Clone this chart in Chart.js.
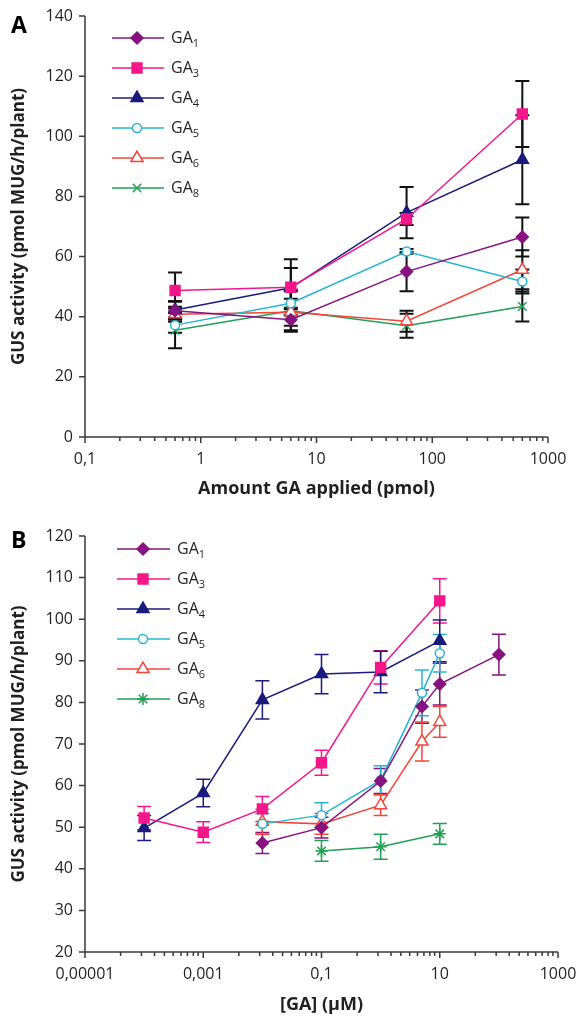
<!DOCTYPE html>
<html><head><meta charset="utf-8">
<script src="https://cdn.jsdelivr.net/npm/chart.js@4.4.0/dist/chart.umd.min.js"></script>
<style>
html,body{margin:0;padding:0;background:#fff;}
#wrap{position:relative;width:584px;height:1019px;overflow:hidden;}
.box{position:absolute;left:0;width:584px;}
#boxA{top:0;height:505px;}
#boxB{top:505px;height:514px;}
</style></head><body>
<div id="wrap">
<div class="box" id="boxA"><canvas id="chartA"></canvas></div>
<div class="box" id="boxB"><canvas id="chartB"></canvas></div>
</div>
<script>
// ---------------- DATA ----------------
const legendBase = ['GA','GA','GA','GA','GA','GA'];
const legendSub  = ['1','3','4','5','6','8'];

// Panel A : amount applied (pmol)
const doseA = [0.6, 6, 60, 600];
const A_GA1 = [42, 39, 55, 66.5];
const A_GA3 = [48.7, 49.8, 72.5, 107.4];
const A_GA4 = [42.2, 49.6, 74.6, 92.2];
const A_GA5 = [37.2, 44.5, 61.7, 51.7];
const A_GA6 = [40.8, 41.5, 38.5, 55.6];
const A_GA8 = [35.5, 42, 37, 43.4];
const A_GA1_err = [3, 3.5, 6.5, 6.5];
const A_GA3_err = [6, 9.3, 2, 11];
const A_GA4_err = [3, 6.6, 8.5, 14.8];
const A_GA5_err = [2.5, 4, 0.8, 4];
const A_GA6_err = [2.5, 4.5, 3.5, 6.5];
const A_GA8_err = [6, 7, 4, 5];
const xTickValuesA = [0.1, 1, 10, 100, 1000];
const xTickLabelsA = ['0,1', '1', '10', '100', '1000'];

// Panel B : concentration (µM)
const B_GA1_x = [0.01, 0.1, 1, 5, 10, 100];
const B_GA1_y = [46.2, 49.9, 61.1, 79, 84.4, 91.5];
const B_GA1_err = [2.5, 2.5, 3, 4, 5, 4.9];
const B_GA3_x = [0.0001, 0.001, 0.01, 0.1, 1, 10];
const B_GA3_y = [52.2, 48.8, 54.4, 65.5, 88.4, 104.4];
const B_GA3_err = [2.8, 2.5, 3, 3, 4, 5.3];
const B_GA4_x = [0.0001, 0.001, 0.01, 0.1, 1, 10];
const B_GA4_y = [49.8, 58.2, 80.6, 86.8, 87.3, 94.8];
const B_GA4_err = [3, 3.3, 4.6, 4.7, 5, 5];
const B_GA5_x = [0.01, 0.1, 1, 5, 10];
const B_GA5_y = [50.8, 52.9, 61.3, 82.3, 91.8];
const B_GA5_err = [2.5, 3, 3.5, 5.5, 4.5];
const B_GA6_x = [0.01, 0.1, 1, 5, 10];
const B_GA6_y = [51.3, 50.8, 55.3, 70.6, 75.3];
const B_GA6_err = [3, 2.5, 2.5, 4.7, 3.7];
const B_GA8_x = [0.1, 1, 10];
const B_GA8_y = [44.3, 45.3, 48.4];
const B_GA8_err = [2.5, 3, 2.5];
const xTickValuesB = [0.00001, 0.001, 0.1, 10, 1000];
const xTickLabelsB = ['0,00001', '0,001', '0,1', '10', '1000'];
const minorFactorsA = [2, 3, 4, 5, 6, 7, 8, 9];
const minorFactorsB = [4, 9, 15, 22, 31, 42, 54, 68, 82];

// ---------------- STYLE ----------------
const FONT = '"Open Sans", "Noto Sans", sans-serif';
const TXT = '#231f20';
const AXIS = '#3a3a3a';
const COL = {
  GA1: '#86137f', GA3: '#f5168a', GA4: '#1b1a7d',
  GA5: '#27b4d2', GA6: '#f2463a', GA8: '#21a055'
};
Chart.defaults.font.family = FONT;
Chart.defaults.color = TXT;

function mk(label, color, style, radius, data, err, fill, extra) {
  return Object.assign({
    label, data, err,
    borderColor: color, backgroundColor: color,
    pointStyle: style, pointRadius: radius, pointHoverRadius: radius,
    pointBackgroundColor: fill || color, pointBorderColor: color,
    pointBorderWidth: 1.5, borderWidth: 1.5, tension: 0, fill: false
  }, extra || {});
}
const zipXY = (xs, ys) => xs.map((x, i) => ({x, y: ys[i]}));

// --------------- PLUGINS ---------------
function errorBarPlugin(opt) {
  return {
    id: 'errbars',
    beforeDatasetsDraw(chart) {
      const ctx = chart.ctx, ys = chart.scales.y;
      chart.data.datasets.forEach((ds, i) => {
        const meta = chart.getDatasetMeta(i);
        ctx.save();
        ctx.strokeStyle = opt.color || ds.borderColor;
        ctx.lineWidth = opt.width;
        meta.data.forEach((pt, j) => {
          const v = typeof ds.data[j] === 'object' ? ds.data[j].y : ds.data[j];
          const e = ds.err[j];
          const x = pt.x;
          const yt = ys.getPixelForValue(v + e), yb = ys.getPixelForValue(v - e);
          ctx.beginPath();
          ctx.moveTo(x, yt); ctx.lineTo(x, yb);
          ctx.moveTo(x - opt.cap, yt); ctx.lineTo(x + opt.cap, yt);
          ctx.moveTo(x - opt.cap, yb); ctx.lineTo(x + opt.cap, yb);
          ctx.stroke();
        });
        ctx.restore();
      });
    }
  };
}

function axesPlugin(opt) {
  return {
    id: 'axesdraw',
    afterDraw(chart) {
      const ctx = chart.ctx, a = chart.chartArea;
      const xs = chart.scales.x, ys = chart.scales.y;
      ctx.save();
      ctx.strokeStyle = AXIS; ctx.lineWidth = 1.5;
      ctx.beginPath();
      ctx.moveTo(a.left, a.top); ctx.lineTo(a.left, a.bottom); ctx.lineTo(a.right, a.bottom);
      ys.ticks.forEach(t => {
        const y = ys.getPixelForValue(t.value);
        ctx.moveTo(a.left - 6, y); ctx.lineTo(a.left, y);
      });
      xs.ticks.forEach(t => {
        const x = xs.getPixelForValue(t.value);
        const len = t.major ? 6 : 4;
        ctx.moveTo(x, a.bottom); ctx.lineTo(x, a.bottom + len);
      });
      ctx.stroke();
      // panel letter
      ctx.fillStyle = '#000';
      ctx.font = 'bold 23px ' + FONT;
      ctx.textAlign = 'left'; ctx.textBaseline = 'middle';
      ctx.fillText(opt.letter, opt.lx, opt.ly);
      ctx.restore();
    }
  };
}

function legendPlugin(opt) {
  return {
    id: 'galegend',
    afterDraw(chart) {
      const ctx = chart.ctx;
      chart.data.datasets.forEach((ds, i) => {
        const y = opt.y0 + i * opt.dy;
        ctx.save();
        ctx.strokeStyle = ds.borderColor; ctx.lineWidth = 1.5;
        ctx.beginPath(); ctx.moveTo(opt.x0, y); ctx.lineTo(opt.x1, y); ctx.stroke();
        ctx.fillStyle = ds.pointBackgroundColor;
        ctx.strokeStyle = ds.pointBorderColor;
        ctx.lineWidth = ds.pointBorderWidth;
        Chart.helpers.drawPoint(ctx, {pointStyle: ds.pointStyle, rotation: 0,
          radius: ds.pointRadius, borderWidth: ds.pointBorderWidth}, opt.xm, y);
        ctx.fillStyle = TXT;
        ctx.textBaseline = 'middle'; ctx.textAlign = 'left';
        ctx.font = '16px ' + FONT;
        ctx.fillText(legendBase[i], opt.xt, y);
        const w = ctx.measureText(legendBase[i]).width;
        ctx.font = '11px ' + FONT;
        ctx.fillText(legendSub[i], opt.xt + w, y + 6);
        ctx.restore();
      });
    }
  };
}

function makeXTicks(majors, factors) {
  const list = [];
  majors.forEach((m, i) => {
    list.push({value: m, major: true});
    if (i < majors.length - 1) factors.forEach(f => list.push({value: m * f, major: false}));
  });
  return list;
}

function baseOptions(cfg) {
  return {
    responsive: true, maintainAspectRatio: false, animation: false,
    layout: {padding: cfg.padding},
    plugins: {legend: {display: false}, tooltip: {enabled: false}},
    scales: {
      x: {
        type: 'logarithmic', min: cfg.xmin, max: cfg.xmax,
        afterBuildTicks: s => { s.ticks = makeXTicks(cfg.xMajors, cfg.xFactors); },
        afterFit: s => { s.height = cfg.xHeight; },
        grid: {display: false, drawTicks: true, tickLength: 6},
        border: {display: false},
        ticks: {
          autoSkip: false, maxRotation: 0, minRotation: 0, padding: 7,
          color: TXT, font: {size: 16, family: FONT},
          callback: (v) => {
            const i = cfg.xMajors.findIndex(m => Math.abs(Math.log10(m) - Math.log10(v)) < 1e-6);
            return i >= 0 ? cfg.xLabels[i] : '';
          }
        },
        title: {display: true, text: cfg.xTitle, color: TXT,
          font: {size: 18, weight: 'bold', family: FONT}, padding: {top: 2, bottom: 0}}
      },
      y: {
        type: 'linear', min: cfg.ymin, max: cfg.ymax,
        afterFit: s => { s.width = 85; },
        grid: {display: false, drawTicks: true, tickLength: 6},
        border: {display: false},
        ticks: {stepSize: cfg.ystep, padding: 6, color: TXT, font: {size: 16, family: FONT}},
        title: {display: true, text: 'GUS activity (pmol MUG/h/plant)', color: TXT,
          font: {size: 17, weight: 'bold', family: FONT}, padding: {top: 9, bottom: 0}}
      }
    }
  };
}

// --------------- CHART A ---------------
new Chart(document.getElementById('chartA'), {
  type: 'line',
  data: {
    labels: doseA,
    datasets: [
      mk('GA1', COL.GA1, 'rectRot', 6, zipXY(doseA, A_GA1), A_GA1_err),
      mk('GA3', COL.GA3, 'rect', 7, zipXY(doseA, A_GA3), A_GA3_err),
      mk('GA4', COL.GA4, 'triangle', 7, zipXY(doseA, A_GA4), A_GA4_err),
      mk('GA5', COL.GA5, 'circle', 4.5, zipXY(doseA, A_GA5), A_GA5_err, '#ffffff'),
      mk('GA6', COL.GA6, 'triangle', 7, zipXY(doseA, A_GA6), A_GA6_err, '#ffffff'),
      mk('GA8', COL.GA8, 'crossRot', 6, zipXY(doseA, A_GA8), A_GA8_err)
    ]
  },
  options: baseOptions({
    padding: {left: 0, right: 36, top: 16, bottom: 5},
    xmin: 0.1, xmax: 1000, xMajors: xTickValuesA, xLabels: xTickLabelsA, xFactors: minorFactorsA,
    xHeight: 63, xTitle: 'Amount GA applied (pmol)', ymin: 0, ymax: 140, ystep: 20
  }),
  plugins: [
    errorBarPlugin({color: '#111111', width: 2, cap: 7}),
    axesPlugin({letter: 'A', lx: 11, ly: 26}),
    legendPlugin({x0: 112, x1: 164, xm: 137, xt: 171, y0: 38, dy: 30})
  ]
});

// --------------- CHART B ---------------
new Chart(document.getElementById('chartB'), {
  type: 'line',
  data: {
    datasets: [
      mk('GA1', COL.GA1, 'rectRot', 6, zipXY(B_GA1_x, B_GA1_y), B_GA1_err),
      mk('GA3', COL.GA3, 'rect', 7, zipXY(B_GA3_x, B_GA3_y), B_GA3_err),
      mk('GA4', COL.GA4, 'triangle', 7, zipXY(B_GA4_x, B_GA4_y), B_GA4_err),
      mk('GA5', COL.GA5, 'circle', 4.5, zipXY(B_GA5_x, B_GA5_y), B_GA5_err, '#ffffff'),
      mk('GA6', COL.GA6, 'triangle', 7, zipXY(B_GA6_x, B_GA6_y), B_GA6_err, '#ffffff'),
      mk('GA8', COL.GA8, 'star', 6, zipXY(B_GA8_x, B_GA8_y), B_GA8_err)
    ]
  },
  options: baseOptions({
    padding: {left: 0, right: 26, top: 31, bottom: 3},
    xmin: 0.00001, xmax: 1000, xMajors: xTickValuesB, xLabels: xTickLabelsB, xFactors: minorFactorsB,
    xHeight: 64, xTitle: '[GA] (µM)', ymin: 20, ymax: 120, ystep: 10
  }),
  plugins: [
    errorBarPlugin({color: null, width: 1.5, cap: 7}),
    axesPlugin({letter: 'B', lx: 11, ly: 36}),
    legendPlugin({x0: 117, x1: 170, xm: 143, xt: 177, y0: 44, dy: 30})
  ]
});
</script>
</body></html>
